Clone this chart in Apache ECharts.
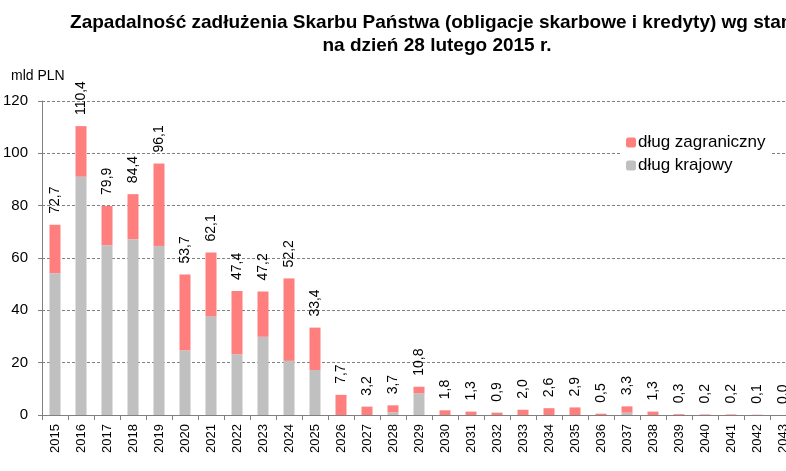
<!DOCTYPE html>
<html>
<head>
<meta charset="utf-8">
<script src="https://cdn.jsdelivr.net/npm/echarts@6/dist/echarts.min.js"></script>
<style>
  html, body { margin: 0; padding: 0; background: #fff; }
  #chart { width: 786px; height: 471px; }
</style>
</head>
<body>
<div id="chart"></div>
<script>
const years = ['2015', '2016', '2017', '2018', '2019', '2020', '2021', '2022', '2023', '2024',
  '2025', '2026', '2027', '2028', '2029', '2030', '2031', '2032', '2033', '2034',
  '2035', '2036', '2037', '2038', '2039', '2040', '2041', '2042', '2043'];
const domestic = [54.2, 91.1, 64.9, 67.2, 64.6, 24.7, 37.7, 23.2, 29.9, 20.7,
  17.2, 0, 0, 1.0, 8.3, 0, 0, 0, 0, 0,
  0, 0, 0.9, 0, 0, 0, 0, 0, 0];
const foreign = [18.5, 19.3, 15.0, 17.2, 31.5, 29.0, 24.4, 24.2, 17.3, 31.5,
  16.2, 7.7, 3.2, 2.7, 2.5, 1.8, 1.3, 0.9, 2.0, 2.6,
  2.9, 0.5, 2.4, 1.3, 0.3, 0.2, 0.2, 0.1, 0.0];
const yTicks = [0, 20, 40, 60, 80, 100, 120];

const fmt = v => v.toFixed(1).replace('.', ',');

const chart = echarts.init(document.getElementById('chart'));
chart.setOption({
  animation: false,
  textStyle: { fontFamily: 'Arial, "Liberation Sans", sans-serif' },
  title: [
    {
      text: 'Zapadalność zadłużenia Skarbu Państwa (obligacje skarbowe i kredyty) wg stanu\nna dzień 28 lutego 2015 r.',
      left: 432, top: 6, textAlign: 'center',
      textStyle: { fontSize: 19, fontWeight: 'bold', color: '#000', lineHeight: 23, align: 'center' }
    },
    {
      text: 'mld PLN', left: 6, top: 64,
      textStyle: { fontSize: 14, fontWeight: 'normal', color: '#000' }
    }
  ],
  legend: {
    orient: 'vertical', left: 620, top: 131,
    itemWidth: 10, itemHeight: 10, itemGap: 6,
    backgroundColor: '#fff', padding: [3, 6],
    textStyle: { fontSize: 17, color: '#000', padding: [0, 0, 0, -3] },
    data: ['dług zagraniczny', 'dług krajowy']
  },
  grid: { left: 42, top: 101, width: 754, height: 314, outerBoundsMode: 'none' },
  xAxis: {
    type: 'category', data: years,
    axisLine: { lineStyle: { color: '#808080' } },
    axisTick: { show: true, length: 5, lineStyle: { color: '#808080' } },
    axisLabel: { rotate: 90, fontSize: 13, color: '#000', margin: 9, interval: 0 }
  },
  yAxis: {
    type: 'value', min: yTicks[0], max: yTicks[yTicks.length - 1], interval: 20,
    axisLine: { show: true, lineStyle: { color: '#808080' } },
    axisTick: { show: true, length: 4, lineStyle: { color: '#808080' } },
    axisLabel: { fontSize: 15, color: '#000', margin: 14 },
    splitLine: { lineStyle: { color: '#808080', type: [3, 2], width: 1 } }
  },
  series: [
    {
      name: 'dług krajowy', type: 'bar', stack: 'total', data: domestic,
      barWidth: 11, itemStyle: { color: '#c0c0c0' }
    },
    {
      name: 'dług zagraniczny', type: 'bar', stack: 'total', data: foreign,
      barWidth: 11, itemStyle: { color: '#ff7f7f' },
      label: {
        show: true, position: 'top', rotate: 90, distance: 11,
        align: 'left', verticalAlign: 'middle',
        fontSize: 14, color: '#000',
        formatter: p => fmt(domestic[p.dataIndex] + foreign[p.dataIndex])
      }
    }
  ]
});
</script>
</body>
</html>
